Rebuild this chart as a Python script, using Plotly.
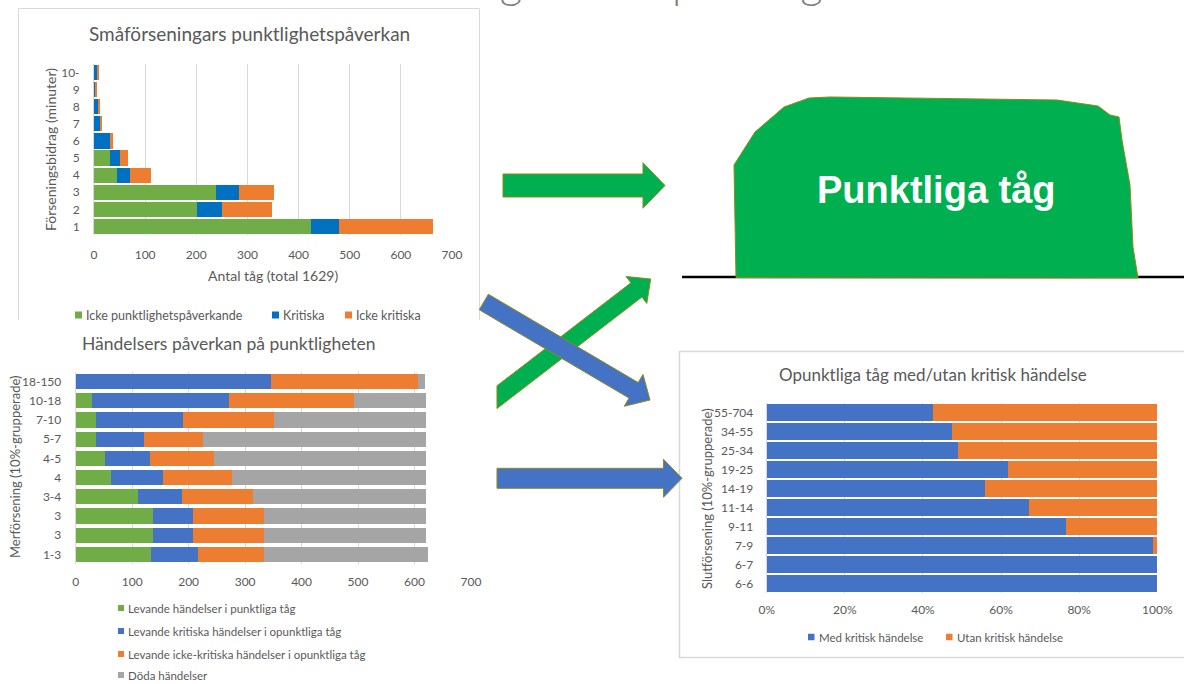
import numpy as np
import plotly.graph_objects as go

W, H = 1184, 684
FONT = "Lato, 'Open Sans', sans-serif"
TXT = "#595959"
GRID = "#D9D9D9"

# --- Småförseningars punktlighetspåverkan (antal tåg per förseningsbidrag) ---
bidrag_labels = ["1", "2", "3", "4", "5", "6", "7", "8", "9", "10-"]
icke_punkt = [424, 201, 238, 45, 31, 0, 0, 0, 0, 0]
kritiska = [56, 49, 45, 26, 19, 31, 12, 8, 3, 6]
icke_kritiska = [183, 99, 68, 41, 17, 7, 3, 2, 3, 3]

# --- Händelsers påverkan på punktligheten ---
merf_labels = ["1-3", "3", "3", "3-4", "4", "4-5", "5-7", "7-10", "10-18", "18-150"]
lev_punkt = [133, 137, 137, 110, 63, 52, 36, 36, 28, 1]
lev_krit = [84, 70, 70, 78, 91, 80, 85, 154, 244, 345]
lev_icke = [117, 127, 127, 126, 122, 113, 105, 162, 221, 260]
doda = [290, 287, 286, 306, 345, 375, 395, 268, 128, 13]

# --- Opunktliga tåg med/utan kritisk händelse (andel, %) ---
slut_labels = ["6-6", "6-7", "7-9", "9-11", "11-14", "14-19", "19-25", "25-34", "34-55", "55-704"]
med_krit = [100, 100, 98.9, 76.5, 67.2, 55.8, 61.9, 49.0, 47.4, 42.5]
utan_krit = [0, 0, 1.1, 23.5, 32.8, 44.2, 38.1, 51.0, 52.6, 57.5]


def X(px):
    return px / W


def Y(py):
    return 1 - py / H


fig = go.Figure()

pos1 = np.arange(len(bidrag_labels))
for vals, col, name in [(icke_punkt, "#70AD47", "Icke punktlighetspåverkande"),
                        (kritiska, "#0070C0", "Kritiska"),
                        (icke_kritiska, "#ED7D31", "Icke kritiska")]:
    fig.add_trace(go.Bar(x=vals, y=pos1, orientation="h", name=name, marker_color=col,
                         marker_line_width=0, width=0.89, xaxis="x", yaxis="y", showlegend=False))

pos2 = np.arange(len(merf_labels))
for vals, col, name in [(lev_punkt, "#70AD47", "Levande händelser i punktliga tåg"),
                        (lev_krit, "#4472C4", "Levande kritiska händelser i opunktliga tåg"),
                        (lev_icke, "#ED7D31", "Levande icke-kritiska händelser i opunktliga tåg"),
                        (doda, "#A5A5A5", "Döda händelser")]:
    fig.add_trace(go.Bar(x=vals, y=pos2, orientation="h", name=name, marker_color=col,
                         marker_line_width=0, width=0.8, xaxis="x2", yaxis="y2", showlegend=False))

pos3 = np.arange(len(slut_labels))
for vals, col, name in [(med_krit, "#4472C4", "Med kritisk händelse"),
                        (utan_krit, "#ED7D31", "Utan kritisk händelse")]:
    fig.add_trace(go.Bar(x=vals, y=pos3, orientation="h", name=name, marker_color=col,
                         marker_line_width=0, width=0.92, xaxis="x3", yaxis="y3", showlegend=False))

tickfont = dict(family=FONT, size=12, color=TXT)


def xax(dom, rng, dtick, standoff, **kw):
    d = dict(domain=[X(dom[0]), X(dom[1])], range=rng, dtick=dtick, showgrid=True, gridcolor=GRID,
             gridwidth=1, zeroline=False, showline=False, ticks="", tickfont=tickfont,
             ticklabelstandoff=standoff, fixedrange=True, automargin=False)
    d.update(kw)
    return d


def yax(dom, labels, anchor, standoff):
    return dict(domain=[Y(dom[1]), Y(dom[0])], range=[-0.5, len(labels) - 0.5],
                tickvals=list(range(len(labels))), ticktext=labels, showgrid=False,
                zeroline=False, showline=True, linecolor=GRID, linewidth=1, ticks="",
                tickfont=tickfont, ticklabelstandoff=standoff, anchor=anchor, fixedrange=True,
                automargin=False)


shapes = []
annotations = []


def text(t, x, y, size, color=TXT, xanchor="center", yanchor="middle", angle=0, family=FONT, **kw):
    annotations.append(dict(text=t, x=X(x), y=Y(y), xref="paper", yref="paper", xanchor=xanchor,
                            yanchor=yanchor, showarrow=False, textangle=angle,
                            font=dict(family=family, size=size, color=color, **kw)))


def legend_item(x, y, size, color, label, fs):
    shapes.append(dict(type="rect", xref="paper", yref="paper", x0=X(x), x1=X(x + size),
                       y0=Y(y + size / 2), y1=Y(y - size / 2), fillcolor=color, line_width=0))
    text(label, x + size + 2, y, fs, xanchor="left")


def path(pts, close=True):
    s = "M " + " L ".join(f"{X(a):.5f},{Y(b):.5f}" for a, b in pts)
    return s + (" Z" if close else "")


def arrow(tail, tip, shaft_w, head_w, head_len, clip_x=None):
    t = np.array(tail, float)
    p = np.array(tip, float)
    d = (p - t) / np.linalg.norm(p - t)
    n = np.array([-d[1], d[0]])
    b = p - d * head_len
    pts = [t + n * shaft_w / 2, b + n * shaft_w / 2, b + n * head_w / 2, p,
           b - n * head_w / 2, b - n * shaft_w / 2, t - n * shaft_w / 2]
    if clip_x is not None:
        for i in (0, 6):
            q = pts[i]
            pts[i] = q + d * ((clip_x - q[0]) / d[0])
    return path(pts)


# panel frames
shapes.append(dict(type="path", xref="paper", yref="paper", layer="below",
                   path=path([(18.5, 320), (18.5, 8.5), (479.5, 8.5), (479.5, 320)], close=False),
                   line=dict(color=GRID, width=1)))
shapes.append(dict(type="path", xref="paper", yref="paper", layer="below",
                   path=path([(1184, 351.5), (679.5, 351.5), (679.5, 657.5), (1184, 657.5)], close=False),
                   line=dict(color=GRID, width=1.5)))

# slide heading, mostly above the page edge
text("Förseningar och", 642, 0, 44, color="#7F7F7F", xanchor="right", yanchor="bottom", weight=300)
annotations[-1]["yshift"] = -9
text("punktlighet", 670, 0, 44, color="#7F7F7F", xanchor="left", yanchor="bottom", weight=300)
annotations[-1]["yshift"] = -9

# chart titles, axis titles and legends
text("Småförseningars punktlighetspåverkan", 249, 33, 19)
text("Antal tåg (total 1629)", 273, 276, 14)
text("Förseningsbidrag (minuter)", 50, 150, 14, angle=-90)
legend_item(75, 315, 7, "#70AD47", "Icke punktlighetspåverkande", 12.5)
legend_item(272, 315, 7, "#0070C0", "Kritiska", 12.5)
legend_item(345, 315, 7, "#ED7D31", "Icke kritiska", 12.5)

text("Händelsers påverkan på punktligheten", 229, 343, 17.5)
text("Merförsening (10%-grupperade)", 15, 467, 13, angle=-90)
legend_item(118, 608, 6, "#70AD47", "Levande händelser i punktliga tåg", 11.5)
legend_item(118, 631, 6, "#4472C4", "Levande kritiska händelser i opunktliga tåg", 11.5)
legend_item(118, 654, 6, "#ED7D31", "Levande icke-kritiska händelser i opunktliga tåg", 11.5)
legend_item(118, 675, 6, "#A5A5A5", "Döda händelser", 11.5)

text("Opunktliga tåg med/utan kritisk händelse", 933, 374, 17)
text("Slutförsening (10%-grupperade)", 707, 499, 13, angle=-90)
legend_item(808, 637, 6.5, "#4472C4", "Med kritisk händelse", 11.5)
legend_item(946, 637, 6.5, "#ED7D31", "Utan kritisk händelse", 11.5)

# arrows
OUT = "#8E8A16"
shapes.append(dict(type="path", xref="paper", yref="paper", layer="above",
                   path=arrow((503, 185.5), (665, 185.5), 23, 45.5, 22),
                   fillcolor="#00B050", line=dict(color=OUT, width=1)))
shapes.append(dict(type="path", xref="paper", yref="paper", layer="above",
                   path=arrow((497, 478.3), (682, 478.3), 20, 38, 18.5),
                   fillcolor="#4472C4", line=dict(color=OUT, width=1)))
shapes.append(dict(type="path", xref="paper", yref="paper", layer="above",
                   path=arrow((497, 397.2), (650.7, 279), 18, 34, 18, clip_x=497),
                   fillcolor="#00B050", line=dict(color=OUT, width=1)))
shapes.append(dict(type="path", xref="paper", yref="paper", layer="above",
                   path=arrow((483.8, 302), (650, 400), 18, 37, 19),
                   fillcolor="#4472C4", line=dict(color=OUT, width=1)))

# punctual trains block on its ground line
shapes.append(dict(type="line", xref="paper", yref="paper", layer="above",
                   x0=X(682), x1=X(1184), y0=Y(277), y1=Y(277), line=dict(color="black", width=2.5)))
blob = [(736, 277.5), (734, 165), (755, 132), (784, 107), (809, 98), (830, 97), (1057, 100),
        (1098, 106), (1110, 115), (1119, 117), (1122, 140), (1130, 185), (1133, 247), (1138, 278)]
shapes.append(dict(type="path", xref="paper", yref="paper", layer="above", path=path(blob),
                   fillcolor="#00B050", line=dict(color=OUT, width=1)))
text("Punktliga tåg", 936, 190, 38, color="white",
     family="'Liberation Sans Narrow', 'Arial Narrow', 'Liberation Sans', Arial, sans-serif", weight="bold")

fig.update_layout(
    width=W, height=H, margin=dict(l=0, r=0, t=0, b=0, autoexpand=False),
    paper_bgcolor="white", plot_bgcolor="rgba(0,0,0,0)",
    barmode="stack", showlegend=False,
    xaxis=xax((94, 452), [0, 700], 100, 11, anchor="y"),
    yaxis=yax((64, 235), bidrag_labels, "x", 11),
    xaxis2=xax((75.7, 471), [0, 700], 100, 9, anchor="y2"),
    yaxis2=yax((372, 564), merf_labels, "x2", 11),
    xaxis3=xax((766.7, 1157.3), [0, 100], 20, 8, anchor="y3", ticksuffix="%"),
    yaxis3=yax((403, 593), slut_labels, "x3", 10),
    shapes=shapes, annotations=annotations,
)

fig.write_html("out.html")
